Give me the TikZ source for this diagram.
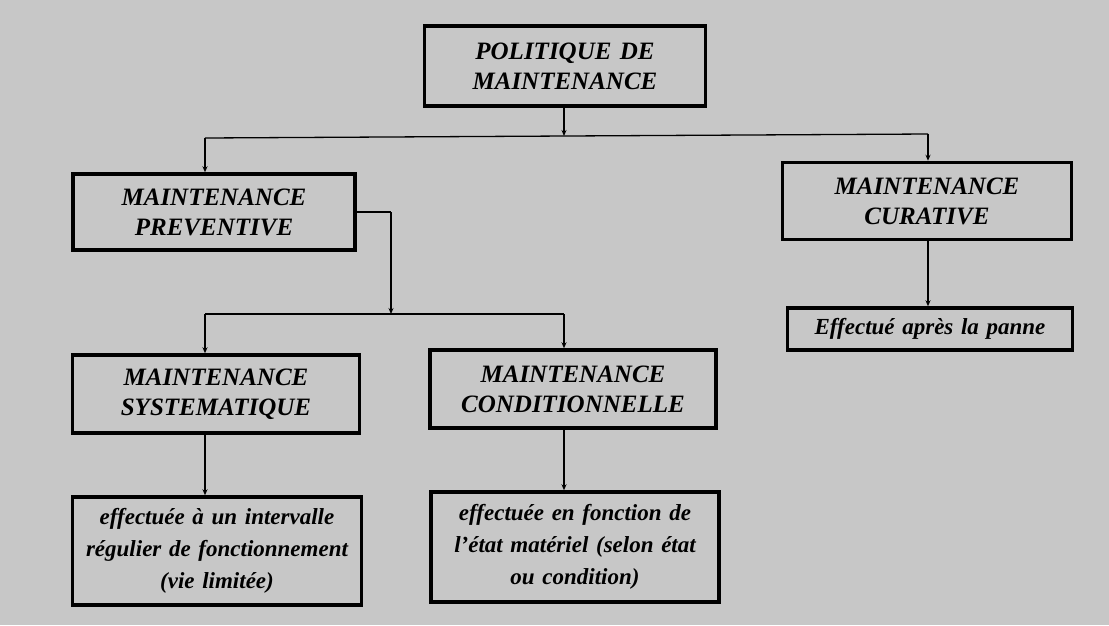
\documentclass[tikz,border=0pt]{standalone}
\usepackage{fontspec}
\setmainfont{Liberation Serif}
\usepackage{tikz}
\usetikzlibrary{positioning,arrows.meta,calc}

\begin{document}
\begin{tikzpicture}[
    x=1pt, y=-1pt,
    font=\bfseries\itshape\fontsize{25}{30}\selectfont,
    main_box/.style={draw, line width=3.5pt, fill=black!22, inner sep=2pt, align=center, text width=#1, minimum height=78pt},
    main_box/.default=270pt,
    desc_box/.style={main_box=#1, font=\bfseries\itshape\fontsize{23}{32}\selectfont},
    desc_box/.default=275pt,
    arrow/.style={-{Stealth[length=6pt,width=5pt]}, line width=1.3pt},
    link/.style={line width=1.3pt}
]

% background
\fill[black!22] (0,0) rectangle (1109,625);
\useasboundingbox (0,0) rectangle (1109,625);

\node (politique) [main_box=277pt, minimum height=80pt] at (565,66)
    {POLITIQUE DE\\ MAINTENANCE};

\node (preventive) [main_box=278pt, minimum height=76pt] at (214,212)
    {MAINTENANCE\\ PREVENTIVE};

\node (curative) [main_box=285pt, minimum height=77pt] at (927,201)
    {MAINTENANCE\\ CURATIVE};

\node (apres) [desc_box=283pt, minimum height=42pt, inner sep=1pt] at (930,329)
    {Effectué après la panne};

\node (systematique) [main_box=283pt] at (216,394)
    {MAINTENANCE\\ SYSTEMATIQUE};

\node (conditionnelle) [main_box=282pt] at (573,389)
    {MAINTENANCE\\ CONDITIONNELLE};

\node (intervalle) [desc_box=285pt, minimum height=108pt] at (217,551)
    {effectuée à un intervalle\\ régulier de fonctionnement\\ (vie limitée)};

\node (etat) [desc_box=284pt, minimum height=110pt] at (575,547)
    {effectuée en fonction de\\ l'état matériel (selon état\\ ou condition)};

% branching points
\coordinate (bar1) at (564,136);
\coordinate (bar1l) at (205,138);
\coordinate (bar1r) at (928,134);
\coordinate (elbow) at (391,212);
\coordinate (bar2) at (391,314);
\coordinate (bar2l) at (205,314);
\coordinate (bar2r) at (564,314);

\draw [arrow] (politique.south -| bar1) -- (bar1);
\draw [link]  (bar1l) -- (bar1r);
\draw [arrow] (bar1l) -- (bar1l |- preventive.north);
\draw [arrow] (bar1r) -- (bar1r |- curative.north);
\draw [arrow] (curative.south -| bar1r) -- (bar1r |- apres.north);

\draw [link]  (preventive.east |- elbow) -- (elbow);
\draw [arrow] (elbow) -- (bar2);
\draw [link]  (bar2l) -- (bar2r);
\draw [arrow] (bar2l) -- (bar2l |- systematique.north);
\draw [arrow] (bar2r) -- (bar2r |- conditionnelle.north);
\draw [arrow] (systematique.south -| bar2l) -- (bar2l |- intervalle.north);
\draw [arrow] (conditionnelle.south -| bar2r) -- (bar2r |- etat.north);

\end{tikzpicture}
\end{document}
